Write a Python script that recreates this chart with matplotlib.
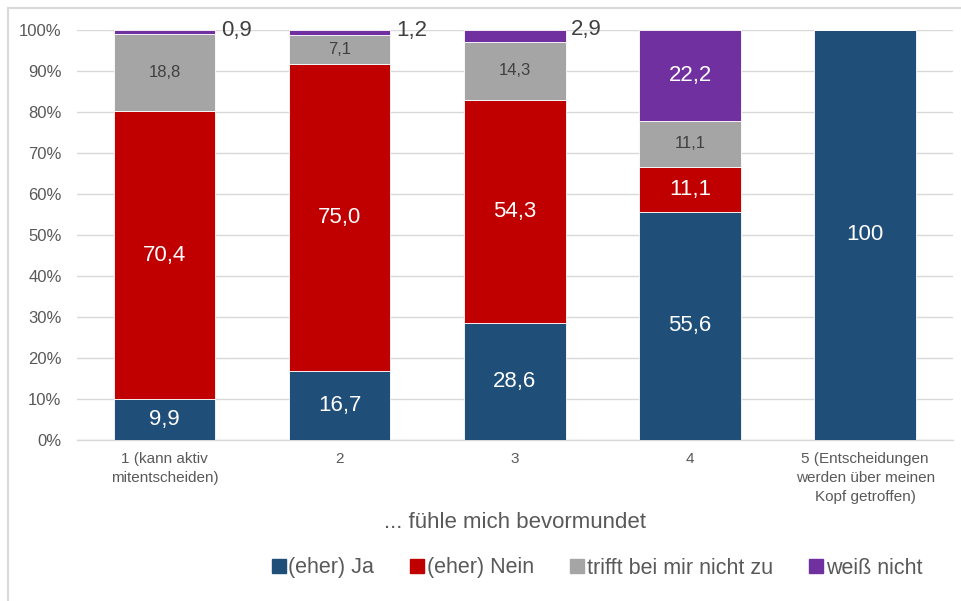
import matplotlib.pyplot as plt
from matplotlib.patches import Rectangle
from matplotlib.lines import Line2D

plt.rcParams['font.family'] = ['Liberation Sans', 'DejaVu Sans']

# Data (percent)
categories = ['1 (kann aktiv\nmitentscheiden)', '2', '3', '4',
              '5 (Entscheidungen\nwerden über meinen\nKopf getroffen)']
series_names = ['(eher) Ja', '(eher) Nein', 'trifft bei mir nicht zu', 'weiß nicht']
ja = [9.9, 16.7, 28.6, 55.6, 100]
nein = [70.4, 75.0, 54.3, 11.1, 0]
nicht_zu = [18.8, 7.1, 14.3, 11.1, 0]
weiss_nicht = [0.9, 1.2, 2.9, 22.2, 0]

colors = ['#1F4E79', '#C00000', '#A5A5A5', '#7030A0']
label_colors = ['white', 'white', '#404040', 'white']
label_sizes = [16, 16, 12, 16]

fig = plt.figure(figsize=(9.61, 6.01), dpi=100)
ax = fig.add_axes([0.080, 0.268, 0.9115, 0.682])

# light frame like the exported chart area
fig.patches.append(Rectangle((8 / 961, -0.1), 1.2, 1 - 8 / 601 + 0.1,
                             transform=fig.transFigure, fill=False,
                             edgecolor='#D9D9D9', linewidth=1.5))

x = list(range(len(categories)))
bottom = [0] * len(categories)
for vals, name, col, lc, ls in zip([ja, nein, nicht_zu, weiss_nicht], series_names,
                                   colors, label_colors, label_sizes):
    bars = ax.bar(x, vals, width=0.58, bottom=bottom, color=col, label=name,
                  edgecolor='white', linewidth=0.6, zorder=3)
    for i, (b, v) in enumerate(zip(bars, vals)):
        if v <= 0:
            continue
        txt = ('%.1f' % v).replace('.', ',') if v < 100 else '100'
        if v < 5:
            # small segments: label outside at top right
            ax.annotate(txt, xy=(b.get_x() + b.get_width(), bottom[i] + v),
                        xytext=(4, 0), textcoords='offset points',
                        ha='left', va='center', fontsize=16, color='#404040')
        else:
            ax.text(b.get_x() + b.get_width() / 2, bottom[i] + v / 2, txt,
                    ha='center', va='center', fontsize=ls, color=lc, zorder=4)
    bottom = [bt + v for bt, v in zip(bottom, vals)]

ax.set_ylim(0, 100)
ax.set_xlim(-0.5, len(categories) - 0.5)
ax.set_yticks(range(0, 101, 10))
ax.set_yticklabels(['%d%%' % t for t in range(0, 101, 10)])
ax.set_xticks(x)
ax.set_xticklabels(categories, fontsize=11, color='#595959', linespacing=1.45)
ax.tick_params(axis='y', labelsize=12, colors='#595959', length=0, pad=11)
ax.tick_params(axis='x', length=0, pad=9)
ax.grid(axis='y', color='#D9D9D9', linewidth=1, zorder=0)
for s in ['top', 'right', 'left']:
    ax.spines[s].set_visible(False)
ax.spines['bottom'].set_color('#D9D9D9')
ax.spines['bottom'].set_linewidth(1)

fig.text(515 / 961, 1 - 522 / 601, '... fühle mich bevormundet', ha='center',
         va='center', fontsize=16, color='#595959')

handles = [Line2D([], [], marker='s', linestyle='', markersize=10,
                  markerfacecolor=c, markeredgecolor=c) for c in colors]
fig.legend(handles, series_names, loc='center', bbox_to_anchor=(596 / 961, 1 - 568 / 601),
           ncol=4, frameon=False, fontsize=15.5, labelcolor='#595959',
           handletextpad=0.05, columnspacing=1.6, handlelength=0.8)

fig.savefig('out.png', dpi=100)
